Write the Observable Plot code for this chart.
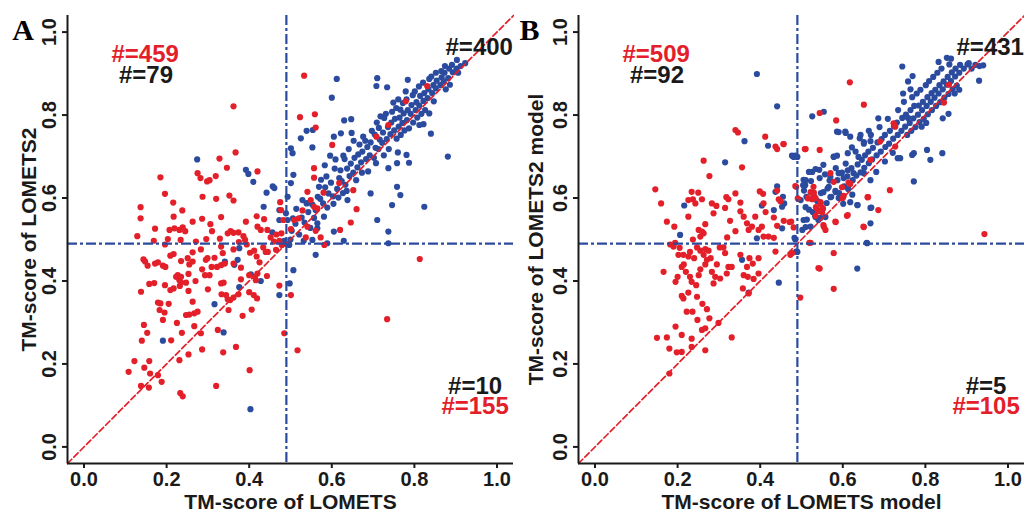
<!DOCTYPE html>
<html><head><meta charset="utf-8">
<script src="https://cdn.jsdelivr.net/npm/d3@7"></script>
<script src="https://cdn.jsdelivr.net/npm/@observablehq/plot@0.6"></script>
<style>
body{margin:0;background:#fff}
#wrap{display:flex;width:1024px;height:509px;overflow:hidden;background:#fff}
#wrap svg{overflow:visible}
</style>
</head><body><div id="wrap"></div>
<script>
// ---------- data ----------
const tickValues = [0, 0.2, 0.4, 0.6, 0.8, 1.0];
const cutoff = 0.49;
const diagonal = [-0.04, 1.04];

const aCounts = ["#=459", "#=79", "#=400", "#=10", "#=155"];
const bCounts = ["#=509", "#=92", "#=431", "#=5", "#=105"];

const aRed = [[0.533,0.895],[0.362,0.821],[0.367,0.710],[0.328,0.695],[0.346,0.673],[0.275,0.660],[0.282,0.648],[0.298,0.640],[0.304,0.643],[0.185,0.650],[0.319,0.653],[0.420,0.664],[0.196,0.610],[0.287,0.603],[0.320,0.598],[0.352,0.606],[0.362,0.594],[0.216,0.589],[0.137,0.578],[0.238,0.570],[0.137,0.551],[0.217,0.555],[0.286,0.550],[0.332,0.554],[0.263,0.543],[0.306,0.537],[0.172,0.526],[0.207,0.523],[0.219,0.527],[0.231,0.523],[0.239,0.529],[0.245,0.520],[0.129,0.508],[0.203,0.501],[0.196,0.488],[0.234,0.499],[0.169,0.497],[0.271,0.495],[0.296,0.501],[0.329,0.502],[0.348,0.515],[0.362,0.516],[0.374,0.517],[0.386,0.508],[0.390,0.499],[0.392,0.543],[0.418,0.556],[0.436,0.549],[0.420,0.531],[0.428,0.523],[0.444,0.523],[0.452,0.505],[0.466,0.512],[0.475,0.590],[0.477,0.571],[0.483,0.547],[0.478,0.515],[0.473,0.497],[0.479,0.487],[0.434,0.481],[0.412,0.473],[0.418,0.459],[0.402,0.468],[0.394,0.488],[0.375,0.494],[0.362,0.476],[0.332,0.483],[0.336,0.467],[0.283,0.476],[0.299,0.455],[0.295,0.451],[0.263,0.469],[0.251,0.455],[0.235,0.448],[0.263,0.447],[0.316,0.456],[0.322,0.434],[0.309,0.434],[0.286,0.428],[0.293,0.414],[0.304,0.414],[0.332,0.438],[0.341,0.442],[0.362,0.442],[0.380,0.432],[0.380,0.404],[0.400,0.414],[0.414,0.410],[0.420,0.418],[0.416,0.402],[0.443,0.412],[0.473,0.389],[0.501,0.366],[0.332,0.394],[0.338,0.396],[0.333,0.368],[0.344,0.366],[0.348,0.356],[0.354,0.354],[0.362,0.360],[0.374,0.368],[0.400,0.373],[0.411,0.366],[0.419,0.358],[0.384,0.316],[0.406,0.331],[0.148,0.447],[0.154,0.437],[0.172,0.442],[0.179,0.445],[0.191,0.437],[0.197,0.434],[0.209,0.461],[0.217,0.465],[0.144,0.452],[0.158,0.393],[0.138,0.374],[0.196,0.390],[0.209,0.378],[0.217,0.382],[0.223,0.410],[0.227,0.414],[0.231,0.402],[0.235,0.410],[0.232,0.388],[0.235,0.396],[0.253,0.417],[0.247,0.396],[0.253,0.376],[0.179,0.348],[0.185,0.346],[0.183,0.330],[0.195,0.324],[0.191,0.306],[0.263,0.350],[0.267,0.322],[0.275,0.326],[0.247,0.318],[0.255,0.319],[0.225,0.299],[0.267,0.291],[0.283,0.274],[0.237,0.275],[0.145,0.294],[0.153,0.275],[0.140,0.256],[0.211,0.257],[0.324,0.282],[0.286,0.235],[0.337,0.228],[0.368,0.241],[0.253,0.223],[0.231,0.209],[0.122,0.207],[0.158,0.207],[0.146,0.191],[0.160,0.177],[0.179,0.173],[0.108,0.181],[0.138,0.147],[0.157,0.143],[0.188,0.157],[0.233,0.130],[0.239,0.122],[0.320,0.147],[0.401,0.185],[0.485,0.274],[0.517,0.233],[0.734,0.308],[0.813,0.453],[0.523,0.795],[0.559,0.802],[0.561,0.770],[0.601,0.728],[0.557,0.672],[0.557,0.649],[0.580,0.613],[0.541,0.615],[0.549,0.595],[0.557,0.579],[0.565,0.575],[0.529,0.570],[0.618,0.636],[0.652,0.619],[0.660,0.573],[0.646,0.541],[0.620,0.523],[0.573,0.505],[0.582,0.487],[0.537,0.505],[0.541,0.531],[0.561,0.521],[0.509,0.547],[0.520,0.551],[0.501,0.525],[0.708,0.748],[0.737,0.776],[0.779,0.833],[0.831,0.870],[0.460,0.495],[0.445,0.470],[0.425,0.445],[0.355,0.520],[0.310,0.520],[0.255,0.440],[0.270,0.400],[0.170,0.395],[0.205,0.345],[0.300,0.380],[0.350,0.330],[0.440,0.470],[0.465,0.475]];

const aBlue = [[0.274,0.693],[0.392,0.668],[0.398,0.658],[0.410,0.639],[0.442,0.613],[0.457,0.628],[0.461,0.624],[0.435,0.579],[0.473,0.571],[0.473,0.547],[0.456,0.517],[0.376,0.479],[0.372,0.451],[0.364,0.439],[0.341,0.447],[0.404,0.416],[0.428,0.400],[0.376,0.385],[0.316,0.344],[0.338,0.276],[0.191,0.256],[0.403,0.091],[0.473,0.366],[0.498,0.394],[0.507,0.426],[0.561,0.463],[0.501,0.720],[0.505,0.708],[0.507,0.656],[0.501,0.636],[0.493,0.603],[0.489,0.563],[0.493,0.547],[0.525,0.744],[0.539,0.762],[0.554,0.764],[0.553,0.722],[0.612,0.887],[0.600,0.842],[0.630,0.787],[0.647,0.790],[0.605,0.748],[0.622,0.756],[0.710,0.889],[0.708,0.870],[0.734,0.867],[0.749,0.830],[0.784,0.885],[0.881,0.700],[0.840,0.755],[0.822,0.778],[0.824,0.579],[0.781,0.704],[0.787,0.685],[0.760,0.710],[0.758,0.684],[0.737,0.672],[0.758,0.627],[0.766,0.607],[0.746,0.583],[0.694,0.611],[0.710,0.547],[0.737,0.519],[0.737,0.491],[0.638,0.595],[0.604,0.586],[0.581,0.555],[0.605,0.519],[0.629,0.497],[0.589,0.491],[0.553,0.499],[0.565,0.527],[0.565,0.539],[0.529,0.595],[0.539,0.587],[0.490,0.490],[0.497,0.487],[0.485,0.497],[0.500,0.500],
[0.503,0.521],[0.512,0.538],[0.521,0.512],[0.527,0.553],[0.534,0.541],[0.543,0.566],[0.548,0.528],[0.553,0.584],[0.561,0.571],[0.566,0.603],[0.532,0.497],[0.541,0.588],[0.557,0.552],[0.514,0.574],[0.506,0.551],
[0.572,0.598],[0.579,0.587],[0.584,0.626],[0.592,0.611],[0.587,0.652],[0.603,0.604],[0.598,0.637],[0.607,0.671],[0.613,0.622],[0.618,0.648],[0.609,0.693],[0.624,0.641],[0.621,0.667],[0.628,0.702],[0.574,0.644],[0.583,0.679],[0.596,0.702],[0.589,0.577],[0.569,0.627],[0.616,0.601],
[0.633,0.632],[0.637,0.671],[0.631,0.694],[0.643,0.653],[0.646,0.683],[0.641,0.718],[0.652,0.661],[0.655,0.697],[0.653,0.738],[0.662,0.674],[0.664,0.705],[0.667,0.729],[0.671,0.686],[0.674,0.712],[0.676,0.748],[0.683,0.694],[0.686,0.723],[0.681,0.738],[0.636,0.617],[0.648,0.757],[0.659,0.643],[0.673,0.661],[0.627,0.612],
[0.692,0.703],[0.694,0.734],[0.697,0.762],[0.702,0.697],[0.706,0.721],[0.704,0.753],[0.709,0.782],[0.713,0.718],[0.716,0.741],[0.714,0.769],[0.722,0.733],[0.724,0.758],[0.727,0.793],[0.733,0.742],[0.736,0.771],[0.731,0.803],[0.742,0.754],[0.744,0.782],[0.746,0.808],[0.688,0.664],[0.707,0.684],[0.726,0.703],[0.738,0.718],[0.718,0.797],
[0.751,0.763],[0.753,0.791],[0.756,0.817],[0.762,0.772],[0.764,0.794],[0.766,0.813],[0.771,0.781],[0.774,0.804],[0.772,0.829],[0.782,0.788],[0.784,0.812],[0.781,0.838],[0.791,0.803],[0.793,0.824],[0.796,0.848],[0.803,0.812],[0.805,0.831],[0.801,0.857],[0.757,0.743],[0.767,0.752],[0.776,0.763],[0.787,0.768],[0.797,0.782],[0.779,0.857],[0.761,0.838],
[0.812,0.823],[0.814,0.846],[0.811,0.869],[0.822,0.834],[0.824,0.853],[0.821,0.878],[0.832,0.841],[0.834,0.862],[0.836,0.887],[0.843,0.853],[0.846,0.872],[0.841,0.893],[0.852,0.864],[0.854,0.883],[0.863,0.872],[0.866,0.891],[0.807,0.794],[0.817,0.803],[0.826,0.812],[0.847,0.833],[0.836,0.804],[0.812,0.776],
[0.871,0.881],[0.873,0.902],[0.882,0.889],[0.884,0.912],[0.893,0.903],[0.891,0.921],[0.902,0.912],[0.903,0.933],[0.912,0.918],[0.923,0.925],[0.876,0.862],[0.886,0.873],[0.906,0.902],[0.874,0.918],[0.852,0.902],[0.865,0.906]];

const bRed = [[0.617,0.879],[0.651,0.825],[0.544,0.805],[0.584,0.787],[0.340,0.764],[0.346,0.758],[0.412,0.748],[0.437,0.724],[0.441,0.718],[0.457,0.730],[0.508,0.718],[0.544,0.716],[0.263,0.690],[0.356,0.674],[0.277,0.653],[0.146,0.621],[0.160,0.587],[0.234,0.615],[0.250,0.613],[0.237,0.597],[0.243,0.587],[0.226,0.595],[0.259,0.597],[0.283,0.587],[0.294,0.581],[0.318,0.602],[0.323,0.597],[0.340,0.611],[0.315,0.576],[0.352,0.589],[0.352,0.568],[0.399,0.616],[0.407,0.610],[0.408,0.587],[0.413,0.566],[0.441,0.618],[0.445,0.597],[0.449,0.592],[0.487,0.627],[0.491,0.599],[0.475,0.543],[0.481,0.529],[0.287,0.563],[0.226,0.555],[0.174,0.543],[0.192,0.531],[0.251,0.523],[0.259,0.519],[0.255,0.507],[0.267,0.537],[0.263,0.515],[0.237,0.500],[0.182,0.488],[0.190,0.483],[0.194,0.492],[0.302,0.481],[0.247,0.481],[0.255,0.473],[0.267,0.477],[0.275,0.473],[0.327,0.545],[0.360,0.555],[0.368,0.539],[0.372,0.523],[0.380,0.531],[0.388,0.555],[0.396,0.523],[0.404,0.531],[0.408,0.507],[0.420,0.507],[0.433,0.504],[0.433,0.553],[0.441,0.533],[0.457,0.545],[0.437,0.471],[0.396,0.455],[0.374,0.455],[0.382,0.442],[0.368,0.434],[0.360,0.414],[0.370,0.410],[0.384,0.405],[0.396,0.418],[0.352,0.463],[0.311,0.481],[0.315,0.467],[0.263,0.463],[0.271,0.451],[0.267,0.440],[0.255,0.428],[0.251,0.414],[0.202,0.463],[0.214,0.463],[0.226,0.459],[0.210,0.434],[0.220,0.422],[0.230,0.410],[0.234,0.398],[0.195,0.398],[0.166,0.422],[0.283,0.422],[0.291,0.410],[0.287,0.394],[0.303,0.406],[0.323,0.434],[0.331,0.434],[0.319,0.418],[0.358,0.382],[0.372,0.370],[0.210,0.364],[0.214,0.358],[0.226,0.372],[0.247,0.362],[0.222,0.326],[0.236,0.326],[0.271,0.332],[0.195,0.290],[0.248,0.306],[0.277,0.310],[0.299,0.299],[0.259,0.282],[0.267,0.286],[0.150,0.263],[0.174,0.264],[0.210,0.270],[0.234,0.261],[0.331,0.264],[0.180,0.237],[0.198,0.228],[0.210,0.229],[0.234,0.241],[0.267,0.233],[0.180,0.177],[0.497,0.360],[0.578,0.381],[0.544,0.430],[0.578,0.467],[0.519,0.492],[0.554,0.531],[0.558,0.523],[0.582,0.543],[0.535,0.578],[0.546,0.586],[0.550,0.565],[0.542,0.569],[0.534,0.557],[0.530,0.613],[0.526,0.597],[0.516,0.599],[0.570,0.660],[0.602,0.605],[0.598,0.626],[0.614,0.637],[0.618,0.634],[0.610,0.557],[0.650,0.531],[0.661,0.602],[0.686,0.571],[0.714,0.619],[0.667,0.692],[0.690,0.736],[0.723,0.780],[0.727,0.772],[0.727,0.724],[0.845,0.830],[0.857,0.873],[0.943,0.513],[0.477,0.467],[0.456,0.730],[0.510,0.718],[0.578,0.639],[0.485,0.629],[0.529,0.627],[0.522,0.614],[0.529,0.607],[0.534,0.600],[0.546,0.590],[0.551,0.576],[0.539,0.571],[0.515,0.600],[0.600,0.600],[0.660,0.602],[0.612,0.559],[0.583,0.542],[0.553,0.535],[0.651,0.530],[0.471,0.542],[0.522,0.492],[0.473,0.463],[0.541,0.431],[0.205,0.480],[0.215,0.440],[0.240,0.455],[0.280,0.455],[0.295,0.440],[0.245,0.390],[0.260,0.345],[0.200,0.410],[0.230,0.470],[0.340,0.520],[0.320,0.505]];

const bBlue = [[0.392,0.899],[0.441,0.821],[0.362,0.737],[0.419,0.726],[0.315,0.686],[0.216,0.582],[0.206,0.511],[0.392,0.503],[0.356,0.451],[0.372,0.372],[0.445,0.396],[0.485,0.500],[0.487,0.471],[0.477,0.702],[0.485,0.702],[0.441,0.628],[0.437,0.615],[0.455,0.603],[0.458,0.587],[0.453,0.579],[0.433,0.571],[0.404,0.582],[0.453,0.527],[0.505,0.644],[0.509,0.631],[0.526,0.663],[0.526,0.797],[0.554,0.808],[0.635,0.430],[0.659,0.491],[0.635,0.583],[0.669,0.577],[0.667,0.539],[0.744,0.917],[0.758,0.881],[0.769,0.894],[0.772,0.640],[0.812,0.692],[0.841,0.708],[0.804,0.716],[0.768,0.704],[0.733,0.696],[0.739,0.696],[0.930,0.883],[0.578,0.700],[0.586,0.760],[0.606,0.760],[0.618,0.748],[0.590,0.660],[0.618,0.590],[0.590,0.759],[0.607,0.757],[0.643,0.752],[0.667,0.737],[0.651,0.735],[0.481,0.699],[0.490,0.699],[0.578,0.699],[0.612,0.708],[0.638,0.699],[0.553,0.680],[0.534,0.670],[0.518,0.663],[0.510,0.643],[0.504,0.631],[0.544,0.648],[0.570,0.651],[0.583,0.672],[0.595,0.660],[0.602,0.648],[0.612,0.667],[0.626,0.660],[0.651,0.660],[0.667,0.643],[0.566,0.627],[0.553,0.614],[0.570,0.602],[0.583,0.614],[0.590,0.600],[0.546,0.588],[0.510,0.578],[0.498,0.595],[0.527,0.566],[0.534,0.554],[0.546,0.552],[0.505,0.547],[0.510,0.530],[0.558,0.554],[0.636,0.583],[0.667,0.576],[0.772,0.708],[0.483,0.504],[0.490,0.470],[0.658,0.492],
[0.502,0.523],[0.513,0.548],[0.522,0.531],[0.518,0.572],[0.533,0.558],[0.541,0.547],[0.538,0.593],[0.552,0.574],[0.547,0.612],[0.561,0.588],[0.563,0.623],[0.572,0.603],[0.568,0.642],[0.531,0.603],[0.557,0.657],[0.512,0.603],[0.506,0.618],[0.523,0.641],[0.543,0.668],[0.582,0.617],
[0.591,0.612],[0.587,0.643],[0.603,0.628],[0.598,0.661],[0.613,0.622],[0.611,0.652],[0.607,0.683],[0.624,0.643],[0.621,0.672],[0.633,0.654],[0.636,0.681],[0.631,0.712],[0.643,0.662],[0.646,0.692],[0.652,0.673],[0.654,0.703],[0.651,0.731],[0.663,0.684],[0.662,0.712],[0.622,0.722],[0.641,0.744],[0.586,0.702],[0.601,0.586],[0.623,0.608],
[0.671,0.693],[0.673,0.721],[0.668,0.752],[0.682,0.703],[0.684,0.734],[0.692,0.712],[0.694,0.742],[0.689,0.771],[0.703,0.723],[0.702,0.752],[0.712,0.731],[0.714,0.762],[0.709,0.791],[0.722,0.743],[0.724,0.773],[0.733,0.752],[0.731,0.782],[0.734,0.812],[0.742,0.762],[0.744,0.793],[0.681,0.663],[0.702,0.688],[0.721,0.709],[0.663,0.762],[0.686,0.792],
[0.751,0.772],[0.753,0.801],[0.748,0.832],[0.762,0.781],[0.764,0.812],[0.758,0.793],[0.771,0.792],[0.773,0.822],[0.768,0.843],[0.782,0.801],[0.784,0.823],[0.779,0.852],[0.792,0.812],[0.794,0.832],[0.788,0.861],[0.803,0.822],[0.805,0.843],[0.801,0.872],[0.813,0.832],[0.815,0.853],[0.809,0.882],[0.822,0.842],[0.824,0.861],[0.819,0.892],[0.756,0.752],[0.766,0.762],[0.776,0.771],[0.786,0.783],[0.796,0.791],[0.806,0.802],[0.816,0.812],[0.764,0.862],[0.746,0.852],[0.802,0.781],[0.791,0.772],
[0.832,0.852],[0.834,0.872],[0.829,0.902],[0.842,0.862],[0.844,0.881],[0.839,0.912],[0.852,0.873],[0.854,0.892],[0.862,0.882],[0.864,0.903],[0.858,0.922],[0.872,0.893],[0.873,0.912],[0.882,0.902],[0.884,0.921],[0.893,0.912],[0.902,0.922],[0.912,0.912],[0.921,0.921],[0.931,0.918],[0.826,0.822],[0.836,0.831],[0.846,0.842],[0.856,0.851],[0.866,0.862],[0.876,0.871],[0.852,0.938],[0.862,0.936],[0.832,0.928],[0.871,0.852],[0.882,0.861],[0.856,0.803],[0.842,0.792],[0.905,0.925],[0.940,0.920]];

// ---------- styles / layout ----------
const RED = "#e3202a", BLUE = "#2b4b9e", INK = "#1a1a1a";
const countPos = [[0.148,0.947,RED],[0.150,0.896,INK],[0.957,0.964,INK],[0.947,0.147,INK],[0.947,0.099,RED]];

function panel({red, blue, counts, width, marginLeft, marginRight, xLabel, yLabel, yDx, tag, tagDx}) {
  const countData = counts.map((t, i) => ({t, x: countPos[i][0], y: countPos[i][1], c: countPos[i][2]}));
  return Plot.plot({
    width, height: 509, marginLeft, marginRight, marginTop: 15, marginBottom: 46,
    x: {domain: diagonal},
    y: {domain: diagonal},
    style: {fontFamily: "'Liberation Sans', Arial, sans-serif", fontWeight: "bold", color: INK, background: "#fff"},
    marks: [
      Plot.dot(blue, {x: d => d[0], y: d => d[1], r: 3.1, fill: BLUE}),
      Plot.dot(red, {x: d => d[0], y: d => d[1], r: 3.1, fill: RED}),
      Plot.line(diagonal, {x: d => d, y: d => d, stroke: RED, strokeWidth: 1.7, strokeDasharray: "6,3"}),
      Plot.ruleX([cutoff], {stroke: BLUE, strokeWidth: 2.2, strokeDasharray: "10,3,3,3"}),
      Plot.ruleY([cutoff], {stroke: BLUE, strokeWidth: 2.2, strokeDasharray: "10,3,3,3"}),
      Plot.ruleX([diagonal[0]], {stroke: INK, strokeWidth: 2}),
      Plot.ruleY([diagonal[0]], {stroke: INK, strokeWidth: 2}),
      Plot.axisX({ticks: tickValues, tickFormat: d3.format(".1f"), tickSize: 5, tickPadding: 3, strokeWidth: 2, fontSize: 20, label: null}),
      Plot.axisY({ticks: tickValues, tickFormat: d3.format(".1f"), tickSize: 5, tickPadding: 7, tickRotate: -90, strokeWidth: 2, fontSize: 20, label: null}),
      Plot.text(countData, {x: "x", y: "y", text: "t", fill: "c", fontSize: 24, fontWeight: "bold"}),
      Plot.text([xLabel], {text: d => d, frameAnchor: "bottom", textAnchor: "middle", dy: 45, lineAnchor: "bottom", fontSize: 21, fontWeight: "bold"}),
      Plot.text([yLabel], {text: d => d, frameAnchor: "left", textAnchor: "middle", dx: yDx, rotate: -90, fontSize: 21, fontWeight: "bold"}),
      Plot.text([tag], {text: d => d, frameAnchor: "top-left", dx: tagDx, dy: 24, lineAnchor: "bottom", textAnchor: "middle", fontSize: 30, fontWeight: "bold", fontFamily: "'Liberation Serif', 'Times New Roman', serif", fill: "#000"})
    ]
  });
}

const wrap = document.getElementById("wrap");
wrap.appendChild(panel({red: aRed, blue: aBlue, counts: aCounts, width: 514, marginLeft: 67, marginRight: 1,
  xLabel: "TM-score of LOMETS", yLabel: "TM-score of LOMETS2", yDx: -38.5, tag: "A", tagDx: -44.5}));
wrap.appendChild(panel({red: bRed, blue: bBlue, counts: bCounts, width: 510, marginLeft: 64, marginRight: 0,
  xLabel: "TM-score of LOMETS model", yLabel: "TM-score of LOMETS2 model", yDx: -42, tag: "B", tagDx: -49}));
</script></body></html>
